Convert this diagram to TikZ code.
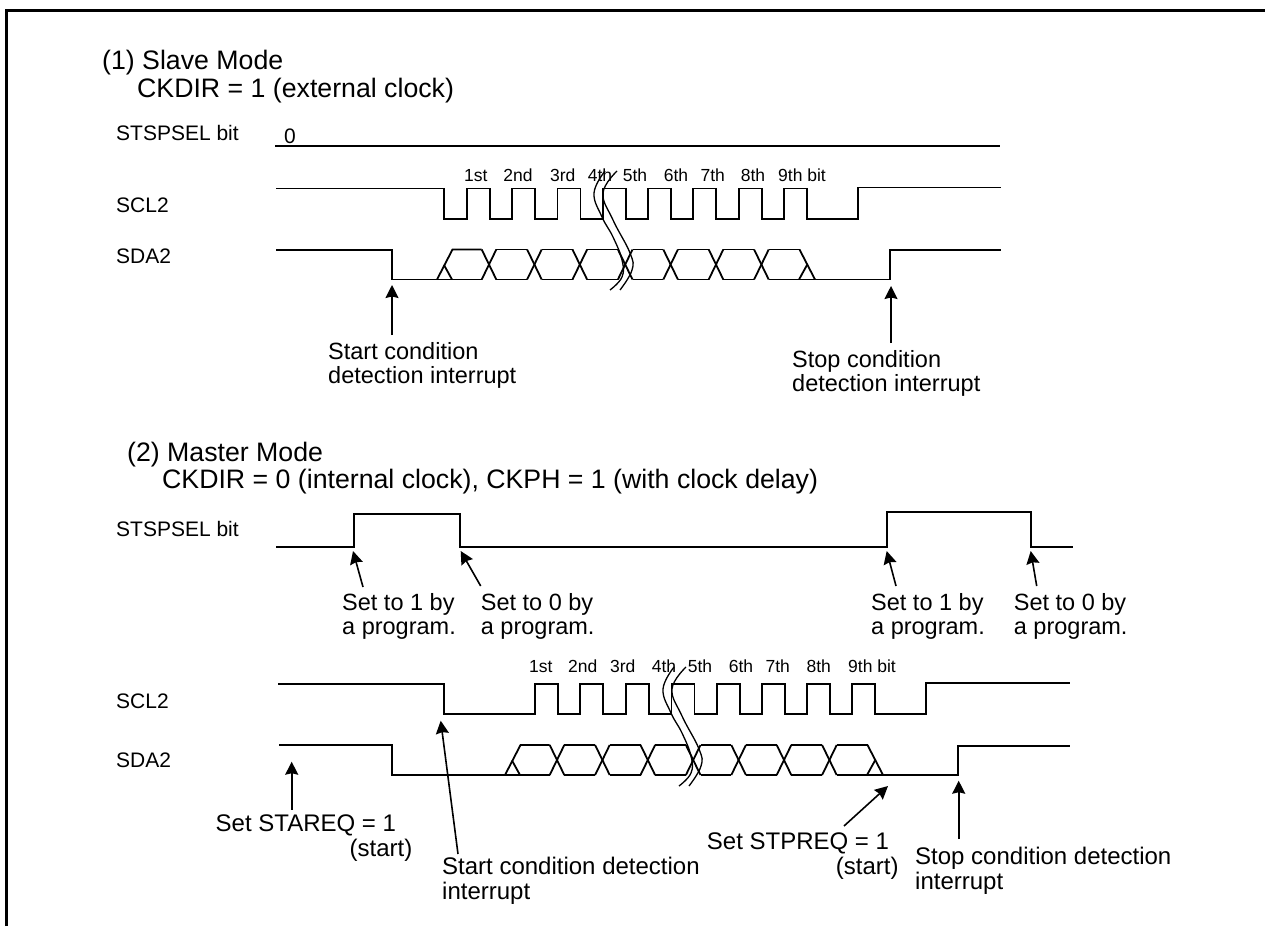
\documentclass[tikz,border=0pt]{standalone}
\usepackage{fontspec}
\setmainfont{Liberation Sans}
\usetikzlibrary{arrows.meta,calc}
\tikzset{
  heading/.style={anchor=base west, inner sep=0pt, font=\fontsize{26.7}{27}\selectfont},
  signame/.style={anchor=base west, inner sep=0pt, font=\fontsize{21}{22}\selectfont},
  bitlabel/.style={anchor=base, inner sep=0pt, font=\fontsize{17.5}{18}\selectfont},
  note/.style={anchor=north west, align=left, inner sep=0pt, font=\fontsize{23.5}{24.5}\selectfont},
  longnote/.style={note, font=\fontsize{24}{25}\selectfont},
  wave/.style={line width=1.8pt, line join=miter},
  breakline/.style={line width=1.3pt},
  sigarrow/.style={-{Stealth[length=13pt, width=13pt, inset=1.5pt]}, line width=1.6pt},
  datacells/.pic={
    \draw[wave] (437,279.5) -- (452.5,249.5) -- (481.7,249.5);
    \draw[wave] (444,265) -- (452,279.5);
    \foreach \x in {489,534.4,579.8,625.2,670.6,716,761.4} {
      \draw[wave] (\x-7.3,279.5) -- (\x+7.3,249.5);
      \draw[wave] (\x-7.3,249.5) -- (\x+7.3,279.5);
      \draw[wave] (\x+7.3,249.5) -- (\x+38.1,249.5);
      \draw[wave] (\x+7.3,279.5) -- (\x+38.1,279.5);
    }
    \draw[wave] (799.5,249.5) -- (815,279.5);
    \draw[wave] (799,279.5) -- (807,265);
  },
  breakmark/.pic={
    \draw[breakline] plot[smooth, tension=0.7] coordinates {(605,171) (594,193) (602,217) (613,237) (622,260) (622,277) (610,290)};
    \draw[breakline] plot[smooth, tension=0.7] coordinates {(617,171) (603,193) (613,220) (630,253) (632,270) (620,290)};
  }
}
\begin{document}
\begin{tikzpicture}[x=1pt, y=-1pt]
  \useasboundingbox (0,0) rectangle (1265,926);
  \draw[line width=3pt] (6.5,926) -- (6.5,10.5) -- (1265,10.5);

  % slave mode
  \node[heading] (slavehead) at (102,69) {(1) Slave Mode};
  \node[heading] (slaveclock) at (137,97) {CKDIR = 1 (external clock)};
  \node[signame] (selA) at (116,140) {STSPSEL bit};
  \node[signame] (sclA) at (116,212) {SCL2};
  \node[signame] (sdaA) at (116,263) {SDA2};
  \node[signame] (zeroA) at (284,143) {0};
  \foreach \x/\lab [count=\i] in {475.7/1st,518/2nd,562.7/3rd,600/4th,635/5th,676/6th,712.7/7th,753/8th,802/9th bit}
    \node[bitlabel] (bitA\i) at (\x,181) {\lab};

  \draw[wave] (275,146) -- (1000,146);
  \draw[wave] (276,188.5) -- (444,188.5) -- (444,219)
    \foreach \x in {467,512,557.5,603,648,693,739,784} { -- (\x,219) -- (\x,188.5) -- (\x+23,188.5) -- (\x+23,219) }
    -- (858,219) -- (858,187.5) -- (1001,187.5);
  \draw[wave, line width=2.3pt] (820,219) -- (830,219);
  \draw[wave] (276,250) -- (392,250) -- (392,279.5) -- (482,279.5);
  \draw[wave] (769,279.5) -- (890,279.5) -- (890,250) -- (1001,250);
  \pic (cellsA) at (0,0) {datacells};
  \pic (breakA) at (0,0) {breakmark};

  \coordinate (startAtip) at (392,285);
  \coordinate (stopAtip) at (891,286);
  \node[note] (startA) at (328,342) {Start condition\\detection interrupt};
  \node[note] (stopA) at (792,350) {Stop condition\\detection interrupt};
  \draw[sigarrow] ($(startA.north west)+(64,-7)$) -- (startAtip);
  \draw[sigarrow] ($(stopA.north west)+(99,-7)$) -- (stopAtip);

  % master mode
  \node[heading] (masterhead) at (127,461) {(2) Master Mode};
  \node[heading] (masterclock) at (162,488) {CKDIR = 0 (internal clock), CKPH = 1 (with clock delay)};
  \node[signame] (selB) at (116,536) {STSPSEL bit};
  \node[signame] (sclB) at (116,708) {SCL2};
  \node[signame] (sdaB) at (116,767) {SDA2};
  \foreach \x/\lab [count=\i] in {540.7/1st,582.7/2nd,622.7/3rd,664/4th,700/5th,741/6th,777.7/7th,818.7/8th,872/9th bit}
    \node[bitlabel] (bitB\i) at (\x,672) {\lab};

  \draw[wave] (276,546.7) -- (353.7,546.7) -- (353.7,514) -- (460,514) -- (460,546.7) -- (886.7,546.7)
    -- (886.7,511.7) -- (1030.7,511.7) -- (1030.7,546.7) -- (1072.7,546.7);
  \draw[wave] (278,684) -- (444,684) -- (444,714)
    \foreach \x in {535,580,625.7,671.5,716.7,761.7,807,852} { -- (\x,714) -- (\x,684) -- (\x+23,684) -- (\x+23,714) }
    -- (925.7,714) -- (925.7,683) -- (1070,683);
  \draw[wave, line width=2.3pt] (890,714) -- (898,714);
  \draw[wave] (279,745) -- (391.7,745) -- (391.7,775) -- (550,775);
  \draw[wave] (837,775) -- (958,775) -- (958,746) -- (1070,746);
  \pic (cellsB) at (68,495.5) {datacells};
  \pic (breakB) at (69,496) {breakmark};

  \coordinate (setoneAtip) at (353,551);
  \coordinate (setzeroAtip) at (460.7,551);
  \coordinate (setoneBtip) at (886.7,551);
  \coordinate (setzeroBtip) at (1030.7,551);
  \node[note] (setoneA) at (342,593) {Set to 1 by\\a program.};
  \node[note] (setzeroA) at (480.7,593) {Set to 0 by\\a program.};
  \node[note] (setoneB) at (871,593) {Set to 1 by\\a program.};
  \node[note] (setzeroB) at (1013.7,593) {Set to 0 by\\a program.};
  \draw[sigarrow] ($(setoneA.north west)+(21,-6)$) -- (setoneAtip);
  \draw[sigarrow] ($(setzeroA.north west)+(0,-7)$) -- (setzeroAtip);
  \draw[sigarrow] ($(setoneB.north west)+(25,-7)$) -- (setoneBtip);
  \draw[sigarrow] ($(setzeroB.north west)+(23,-7)$) -- (setzeroBtip);

  \coordinate (stareqtip) at (291.7,761.7);
  \coordinate (startBtip) at (440.7,720.7);
  \coordinate (stpreqtip) at (888,786);
  \coordinate (stopBtip) at (958.7,780.7);
  \node[longnote] (stareq) at (215.5,815) {Set STAREQ = 1\\\hspace*{134pt}(start)};
  \node[longnote] (startB) at (442,857) {Start condition detection\\interrupt};
  \node[longnote] (stpreq) at (706.7,833) {Set STPREQ = 1\\\hspace*{129pt}(start)};
  \node[longnote] (stopB) at (915,847) {Stop condition detection\\interrupt};
  \draw[sigarrow] ($(stareq.north west)+(76.2,-5.3)$) -- (stareqtip);
  \draw[sigarrow] ($(startB.north west)+(16,-3)$) -- (startBtip);
  \draw[sigarrow] ($(stpreq.north west)+(137.3,-7)$) -- (stpreqtip);
  \draw[sigarrow] ($(stopB.north west)+(43.7,-8)$) -- (stopBtip);
\end{tikzpicture}
\end{document}
